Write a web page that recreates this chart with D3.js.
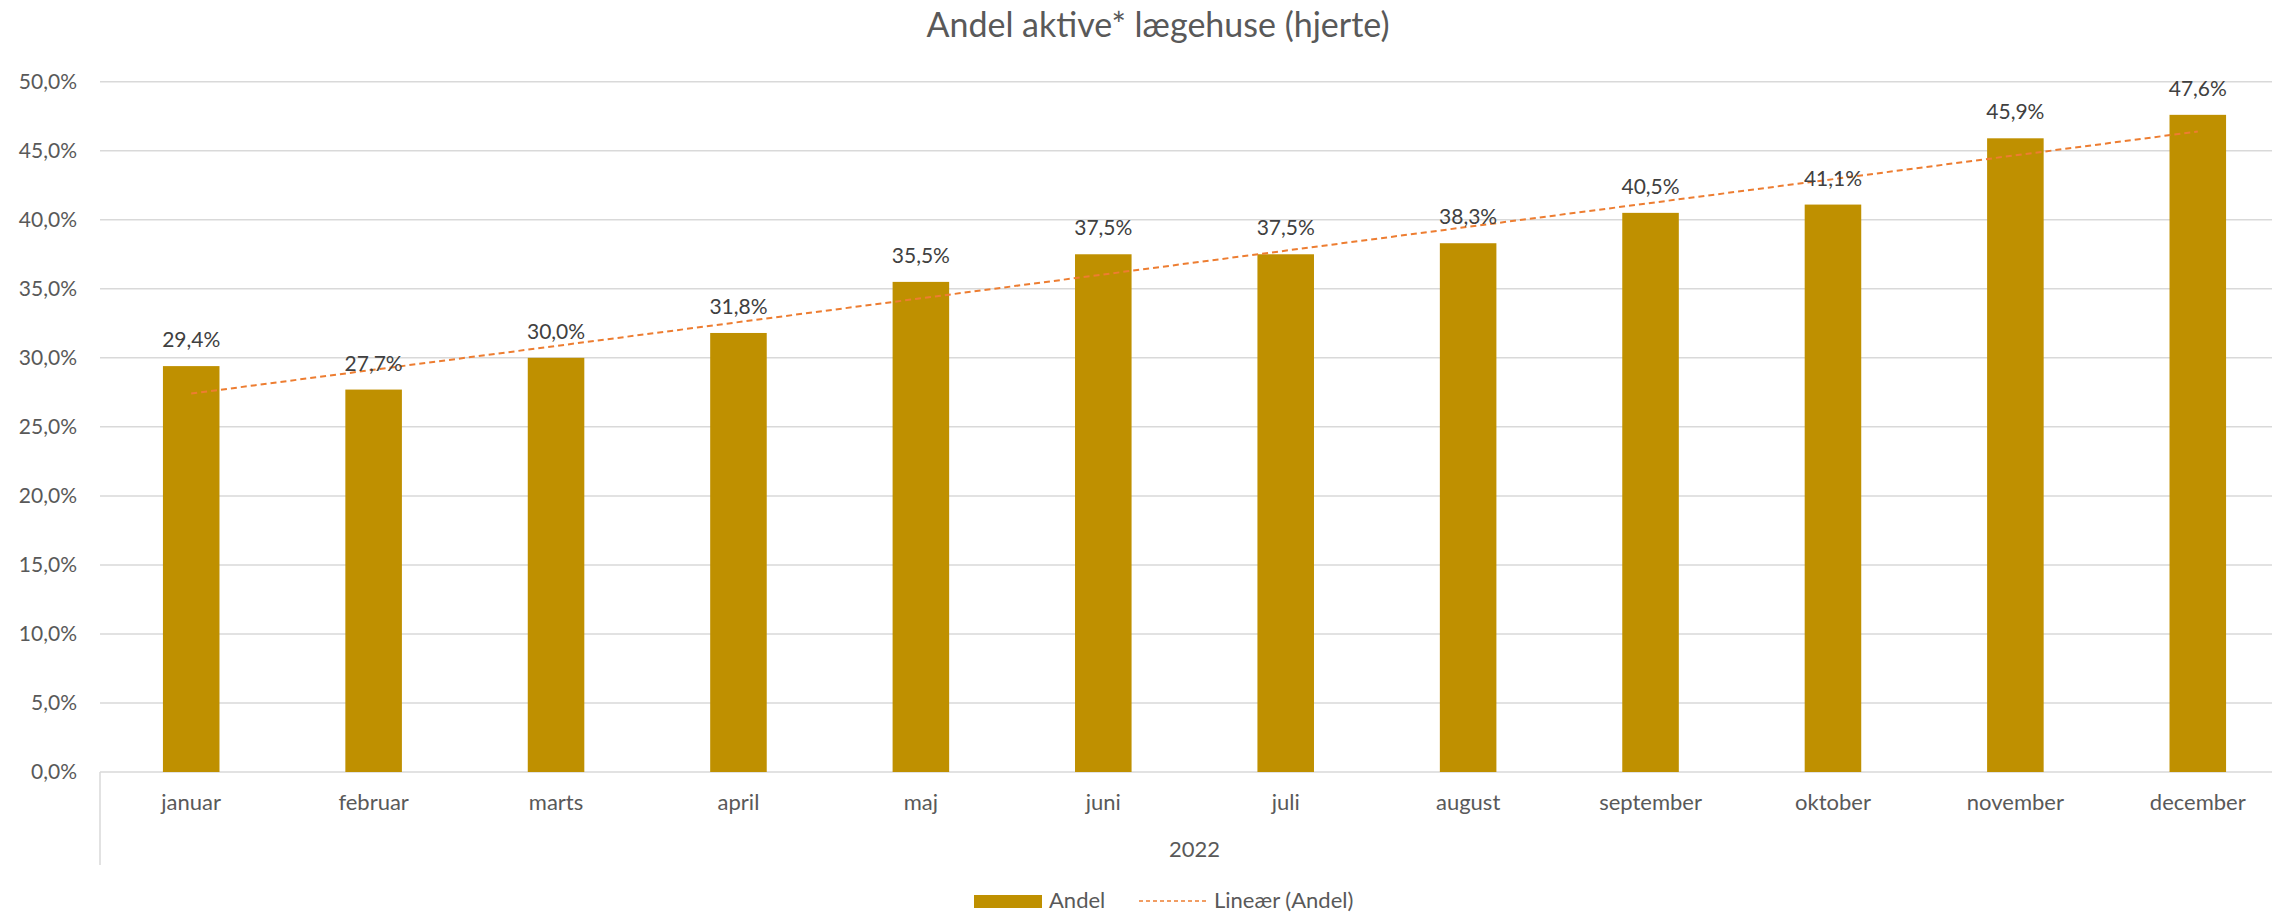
<!DOCTYPE html>
<meta charset="utf-8">
<script src="https://cdn.jsdelivr.net/npm/d3@7"></script>
<style>
body {
  margin: 0;
  background: #fff;
}
svg {
  display: block;
  font-family: Lato, "Open Sans", sans-serif;
}
.grid line {
  stroke: #D9D9D9;
  stroke-width: 1.5px;
}
.tick-label {
  font-size: 21px;
  fill: #595959;
}
.cat-label {
  font-size: 22px;
  fill: #595959;
}
.data-label {
  font-size: 21px;
  fill: #404040;
}
</style>
<body>
<div class="chart"></div>
<script type="text/javascript">

// Data
var months = ["januar", "februar", "marts", "april", "maj", "juni", "juli", "august", "september", "oktober", "november", "december"],
    andel = [0.294, 0.277, 0.300, 0.318, 0.355, 0.375, 0.375, 0.383, 0.405, 0.411, 0.459, 0.476],
    yTicks = [0, 0.05, 0.10, 0.15, 0.20, 0.25, 0.30, 0.35, 0.40, 0.45, 0.50],
    yearLabel = "2022",
    title = "Andel aktive* lægehuse (hjerte)",
    legendLabels = ["Andel", "Lineær (Andel)"];

var width = 2272,
    height = 913,
    plotLeft = 100,
    plotRight = 2289,
    plotTop = 81.7,
    plotBottom = 772,
    barColor = "#BF9000",
    trendColor = "#ED7D31";

var locale = d3.formatLocale({decimal: ",", thousands: ".", grouping: [3], currency: ["", " kr."]});
var pct = locale.format(".1%");

var svg = d3.select(".chart").append("svg")
    .attr("width", width)
    .attr("height", height);

var x = d3.scaleBand()
    .domain(months)
    .range([plotLeft, plotRight]);

var y = d3.scaleLinear()
    .domain([0, 0.5])
    .range([plotBottom, plotTop]);

var barWidth = x.bandwidth() * 0.31;

// title
svg.append("text")
    .attr("x", 1158)
    .attr("y", 37)
    .attr("text-anchor", "middle")
    .style("font-size", "34px")
    .style("fill", "#595959")
    .text(title);

// gridlines
svg.append("g")
    .attr("class", "grid")
    .selectAll("line")
    .data(yTicks)
    .enter().append("line")
    .attr("x1", plotLeft)
    .attr("x2", width)
    .attr("y1", function(d) { return y(d); })
    .attr("y2", function(d) { return y(d); });

// y labels
svg.selectAll(".y-label")
    .data(yTicks)
    .enter().append("text")
    .attr("class", "tick-label")
    .attr("x", 77)
    .attr("y", function(d) { return y(d) + 7; })
    .attr("text-anchor", "end")
    .text(function(d) { return pct(d); });

// left axis stub below the zero line
svg.append("line")
    .attr("x1", plotLeft)
    .attr("x2", plotLeft)
    .attr("y1", plotBottom)
    .attr("y2", 865)
    .style("stroke", "#D9D9D9")
    .style("stroke-width", 1.5);

// bars
svg.selectAll(".bar")
    .data(andel)
    .enter().append("rect")
    .attr("class", "bar")
    .attr("x", function(d, i) { return x(months[i]) + x.bandwidth() / 2 - barWidth / 2; })
    .attr("y", function(d) { return y(d); })
    .attr("width", barWidth)
    .attr("height", function(d) { return y(0) - y(d); })
    .style("fill", barColor);

// trend line (least squares, like Excel)
var n = andel.length,
    mx = d3.mean(andel, function(d, i) { return i + 1; }),
    my = d3.mean(andel),
    sxy = d3.sum(andel, function(d, i) { return (i + 1 - mx) * (d - my); }),
    sxx = d3.sum(andel, function(d, i) { return (i + 1 - mx) * (i + 1 - mx); }),
    slope = sxy / sxx,
    icpt = my - slope * mx;

var trend = [0, n - 1].map(function(i) {
  return [x(months[i]) + x.bandwidth() / 2, y(icpt + slope * (i + 1))];
});

svg.append("path")
    .attr("d", d3.line()(trend))
    .style("fill", "none")
    .style("stroke", trendColor)
    .style("stroke-width", 2)
    .style("stroke-dasharray", "6,4");

// data labels
svg.selectAll(".data-label")
    .data(andel)
    .enter().append("text")
    .attr("class", "data-label")
    .attr("x", function(d, i) { return x(months[i]) + x.bandwidth() / 2; })
    .attr("y", function(d) { return y(d) - 19; })
    .attr("text-anchor", "middle")
    .text(function(d) { return pct(d); });

// category labels
svg.selectAll(".x-label")
    .data(months)
    .enter().append("text")
    .attr("class", "cat-label")
    .attr("x", function(d) { return x(d) + x.bandwidth() / 2; })
    .attr("y", 810)
    .attr("text-anchor", "middle")
    .text(function(d) { return d; });

svg.append("text")
    .attr("class", "cat-label")
    .attr("x", (plotLeft + plotRight) / 2)
    .attr("y", 857)
    .attr("text-anchor", "middle")
    .text(yearLabel);

// legend
var legend = svg.append("g");

legend.append("rect")
    .attr("x", 974)
    .attr("y", 895)
    .attr("width", 68)
    .attr("height", 13)
    .style("fill", barColor);

legend.append("text")
    .attr("class", "cat-label")
    .attr("x", 1049)
    .attr("y", 908)
    .text(legendLabels[0]);

legend.append("line")
    .attr("x1", 1139)
    .attr("x2", 1206)
    .attr("y1", 901)
    .attr("y2", 901)
    .style("stroke", trendColor)
    .style("stroke-width", 1.5)
    .style("stroke-dasharray", "4,3");

legend.append("text")
    .attr("class", "cat-label")
    .attr("x", 1214)
    .attr("y", 908)
    .text(legendLabels[1]);

</script>
</body>
